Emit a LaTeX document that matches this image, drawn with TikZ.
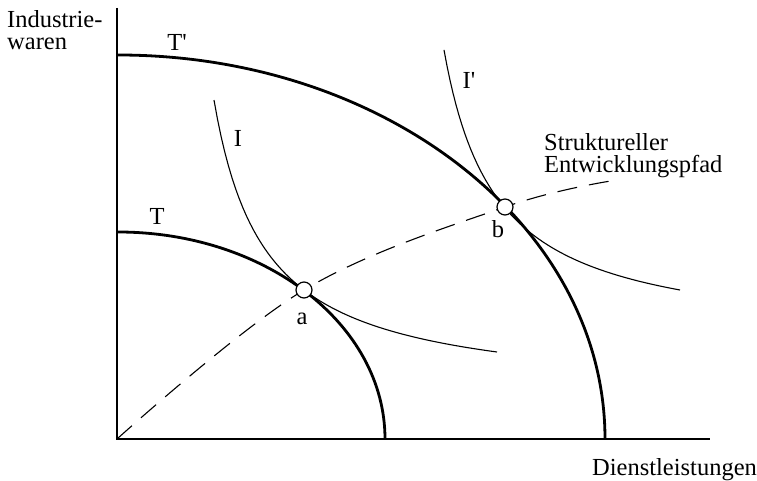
\documentclass[tikz,border=0pt]{standalone}
\usepackage{fontspec}
\setmainfont{Liberation Serif}
\begin{document}
\begin{tikzpicture}[x=1pt,y=1pt,
  axis/.style={line width=1.8pt},
  transf/.style={line width=2.8pt},
  indiff/.style={line width=1.1pt},
  pathline/.style={line width=1.1pt,dash pattern=on 20pt off 12pt},
  pt/.style={circle,draw,fill=white,line width=1.2pt,minimum size=16pt,inner sep=0pt},
  lbl/.style={inner sep=0pt,font=\fontsize{24.5}{22.5}\selectfont}]
\useasboundingbox (0,0) rectangle (757,481);
\coordinate (O) at (117,42);
\coordinate (ytop) at (117,473);
\coordinate (xend) at (710,42);
\coordinate (pend) at (617,301);
\coordinate (apos) at (304,191);
\coordinate (bpos) at (505,274);
% axes
\draw[axis] (ytop) -- (O) -- (xend);
% transformation curves
\draw[transf] (118,249) arc[start angle=90,end angle=0,x radius=267,y radius=207];
\draw[transf] (118,426) arc[start angle=90,end angle=0,x radius=487,y radius=384];
% indifference curves
\draw[indiff] plot[domain=214:497,samples=80] (\x,{83.78+15094/(\x-163.2)});
\draw[indiff] plot[domain=444:680,samples=80] (\x,{138+15269/(\x-391.9)});
% development path
\draw[pathline] plot[smooth,tension=0.6] coordinates {(O) (apos) (bpos) (pend)};
% points
\node[pt] (a) at (apos) {};
\node[pt] (b) at (bpos) {};
% labels
\node[lbl,anchor=base west,align=left] (yl) at (7,431) {Industrie-\\waren};
\node[lbl,anchor=base west] (xl) at (592,5) {Dienstleistungen};
\node[lbl,anchor=base west,align=left] (sl) at (544,308) {Struktureller\\Entwicklungspfad};
\node[lbl] (Tp) at (177,439) {T\textquotesingle};
\node[lbl] (T) at (157,265) {T};
\node[lbl] (I) at (238,343) {I};
\node[lbl] (Ip) at (469,401) {I\textquotesingle};
\node[lbl,anchor=base] (al) at (302,156) {a};
\node[lbl,anchor=base] (bl) at (498,243) {b};
\end{tikzpicture}
\end{document}
